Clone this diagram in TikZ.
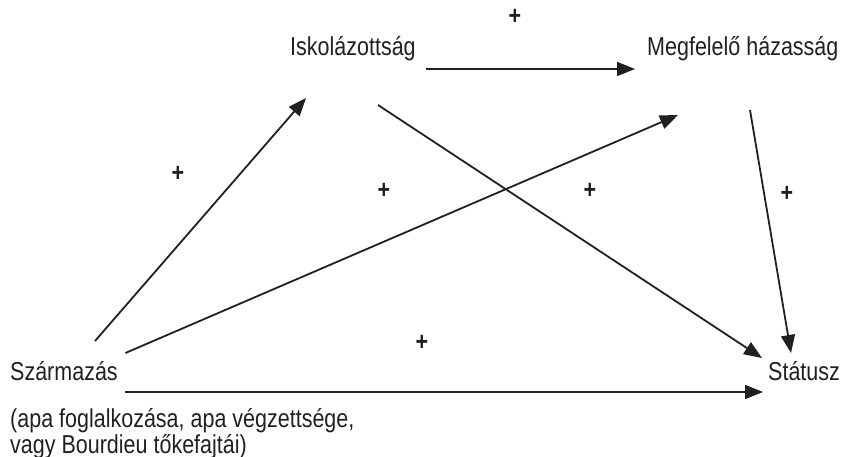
\documentclass[tikz,border=0pt]{standalone}
\usepackage{fontspec}
\setmainfont[FakeStretch=0.83]{Liberation Sans}
\usepackage{tikz}
\usetikzlibrary{calc, arrows.meta}
\definecolor{inkgray}{HTML}{231F20}

\begin{document}
\begin{tikzpicture}[x=1bp, y=-1bp,
		label text/.style={inner sep=0pt, anchor=base west, text=inkgray, font=\fontsize{26}{27}\selectfont},
		sign/.style={inner sep=0pt, text=inkgray, font=\fontsize{26}{27}\selectfont\bfseries},
		arr/.style={line width=1.8bp, draw=inkgray, -{Triangle[length=18bp, width=14bp]}}]
			\useasboundingbox (0,0) rectangle (842,457);
			\node[label text] (isk) at (290,56) {Iskolázottság};
			\node[label text] (megf) at (647,56) {Megfelelő házasság};
			\node[label text] (szarm) at (10,381) {Származás};
			\node[label text] (stat) at (768,381) {Státusz};
			\node[label text] (szarmnote) at (10,427) {(apa foglalkozása, apa végzettsége,};
			\node[label text] (szarmnotetwo) at (10,453) {vagy Bourdieu tőkefajtái)};
			\draw[arr] ($(isk.base east)+(10,13)$) -- ($(megf.base west)+(-12,13)$);
			\draw[arr] ($(szarm.base west)+(85,-40)$) -- ($(isk.base west)+(16,42)$);
			\draw[arr] ($(szarm.base east)+(7.5,-28)$) -- ($(megf.base west)+(31,59)$);
			\draw[arr] ($(isk.base west)+(88,49)$) -- ($(stat.base west)+(-6,-23)$);
			\draw[arr] ($(megf.base west)+(103,54)$) -- ($(stat.base west)+(23,-28)$);
			\draw[arr] ($(szarm.base east)+(7.5,11)$) -- ($(stat.base west)+(-5,11)$);
			\node[sign] (plusiskmegf) at (515,17) {+};
			\node[sign] (plusszarmisk) at (178,174) {+};
			\node[sign] (plusszarmmegf) at (384,191) {+};
			\node[sign] (plusiskstat) at (590,191) {+};
			\node[sign] (plusmegfstat) at (787,194) {+};
			\node[sign] (plusszarmstat) at (422,343) {+};
		\end{tikzpicture}
\end{document}
